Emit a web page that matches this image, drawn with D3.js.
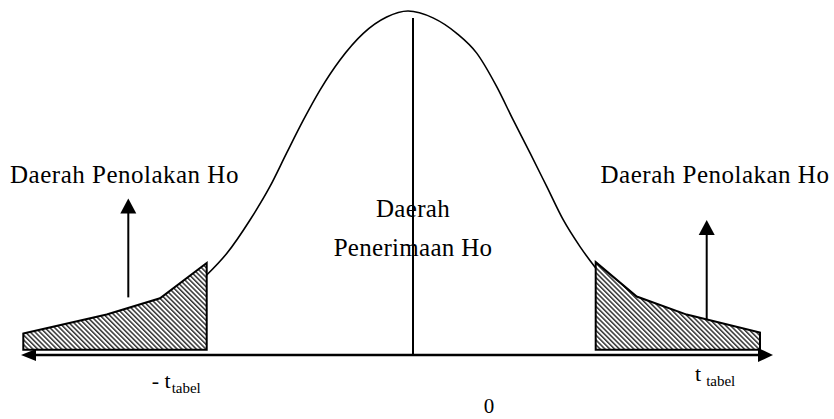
<!DOCTYPE html>
<html>
<head>
<meta charset="utf-8">
<script src="https://cdn.jsdelivr.net/npm/d3@7"></script>
<style>
	body { margin: 0; background: #fff; }
	text { font-family: "Liberation Serif", "Times New Roman", serif; fill: #000; }
</style>
</head>
<body>
<div id="chart"></div>
<script>
// kurva normal (t, kepadatan)
var curveT = [-2.063, -1.863, -1.630, -1.430, -1.263, -1.097, -0.930, -0.730, -0.497, -0.263, -0.050,
	0.200, 0.437, 0.637, 0.837, 1.003, 1.170, 1.337, 1.503, 1.670, 1.827];
var curveDensity = [0.093, 0.118, 0.157, 0.196, 0.235, 0.273, 0.308, 0.343, 0.374, 0.393, 0.400,
	0.392, 0.374, 0.351, 0.312, 0.273, 0.235, 0.196, 0.157, 0.126, 0.101];

// daerah penolakan (arsiran)
var leftTailT = [-3.897, -3.063, -2.530, -2.063];
var leftTailTop = [0.025, 0.047, 0.066, 0.107];
var rightTailT = [1.827, 2.237, 2.737, 3.470];
var rightTailTop = [0.108, 0.068, 0.047, 0.026];
var tailBase = 0.006;

var axisT = [-3.92, 3.60];
var centerLine = [0, 0.392];

// panah: t, bawah, atas
var arrowsUp = [[-2.847, 0.067, 0.182], [2.937, 0.041, 0.157]];

var regionLabels = ["Daerah Penolakan Ho", "Daerah Penolakan Ho"];
var regionLabelT = [-2.885, 3.02];
var regionLabelD = 0.200;
var centerLabels = ["Daerah", "Penerimaan Ho"];
var centerLabelD = [0.160, 0.115];
var tickLabels = [["- t", "tabel"], ["t", "tabel"], ["0", ""]];
var tickLabelT = [-2.613, 2.82, 0.76];
var tickLabelD = [-0.038, -0.030, -0.068];

var width = 834, height = 419;

var x = d3.scaleLinear().domain([-4, 4]).range([13, 813]);
var y = d3.scaleLinear().domain([0, 0.4]).range([355, 11]);

var svg = d3.select("#chart").append("svg").attr("width", width).attr("height", height);

var defs = svg.append("defs");
defs.append("pattern")
	.attr("id", "hatch")
	.attr("patternUnits", "userSpaceOnUse")
	.attr("width", 3.4).attr("height", 3.4)
	.attr("patternTransform", "rotate(-45)")
	.append("rect")
	.attr("width", 1.5).attr("height", 3.4)
	.attr("fill", "#333");

function arrow(g, x1, y1, x2, y2, len, half, sw){
	var dx = x2 - x1, dy = y2 - y1;
	var L = Math.sqrt(dx*dx + dy*dy);
	var ux = dx/L, uy = dy/L;
	var bx = x2 - ux*len, by = y2 - uy*len;
	g.append("line")
		.attr("x1", x1).attr("y1", y1)
		.attr("x2", x2 - ux*len*0.7).attr("y2", y2 - uy*len*0.7)
		.attr("stroke", "#000").attr("stroke-width", sw);
	g.append("path")
		.attr("d", "M" + x2 + "," + y2 + "L" + (bx - uy*half) + "," + (by + ux*half) + "L" + (bx + uy*half) + "," + (by - ux*half) + "Z")
		.attr("fill", "#000");
}

// arsiran
function tailPoints(ts, tops){
	var pts = ts.map(function(t, i){ return [x(t), y(tops[i])]; });
	pts.push([x(ts[ts.length-1]), y(tailBase)]);
	pts.push([x(ts[0]), y(tailBase)]);
	return pts;
}
[tailPoints(leftTailT, leftTailTop), tailPoints(rightTailT, rightTailTop)].forEach(function(pts){
	svg.append("polygon")
		.attr("points", pts.map(function(p){ return p.join(","); }).join(" "))
		.attr("fill", "url(#hatch)")
		.attr("stroke", "#000")
		.attr("stroke-width", 2)
		.attr("stroke-linejoin", "miter");
});

// kurva
var line = d3.line()
	.x(function(d){ return x(d[0]); })
	.y(function(d){ return y(d[1]); })
	.curve(d3.curveMonotoneX);

svg.append("path")
	.attr("d", line(curveT.map(function(t, i){ return [t, curveDensity[i]]; })))
	.attr("fill", "none")
	.attr("stroke", "#000")
	.attr("stroke-width", 1.6);

// teks
regionLabels.forEach(function(s, i){
	svg.append("text")
		.attr("x", x(regionLabelT[i])).attr("y", y(regionLabelD))
		.attr("text-anchor", "middle")
		.style("font-size", "25px")
		.style("letter-spacing", "0.5px")
		.text(s);
});
centerLabels.forEach(function(s, i){
	svg.append("text")
		.attr("x", x(0)).attr("y", y(centerLabelD[i]))
		.attr("text-anchor", "middle")
		.style("font-size", "25px")
		.style("letter-spacing", "0.3px")
		.text(s);
});
tickLabels.forEach(function(s, i){
	var t = svg.append("text")
		.attr("x", x(tickLabelT[i])).attr("y", y(tickLabelD[i]))
		.attr("text-anchor", i == 2 ? "middle" : "start")
		.style("font-size", i == 2 ? "21px" : "22px");
	t.append("tspan").text(s[0]);
	if(s[1]){
		t.append("tspan").attr("dy", 5).attr("dx", i == 1 ? 5 : 1).style("font-size", "15px").text(s[1]);
	}
});

// garis tengah
svg.append("line")
	.attr("x1", x(0)).attr("x2", x(0))
	.attr("y1", y(centerLine[0])).attr("y2", y(centerLine[1]))
	.attr("stroke", "#000").attr("stroke-width", 2);

// sumbu dengan panah di kedua ujung
var axisG = svg.append("g");
var midX = x(0);
arrow(axisG, midX, y(0), x(axisT[0]), y(0), 15, 6, 2.5);
arrow(axisG, midX, y(0), x(axisT[1]), y(0), 15, 7, 2.5);

// panah ke label
arrowsUp.forEach(function(a){
	arrow(svg, x(a[0]), y(a[1]), x(a[0]), y(a[2]), 15, 8, 2);
});
</script>
</body>
</html>
